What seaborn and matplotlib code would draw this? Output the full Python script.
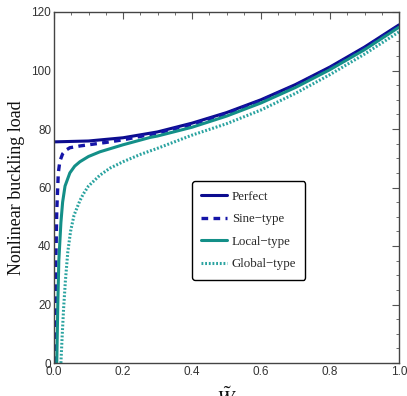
import matplotlib
matplotlib.use("Agg")
import matplotlib.pyplot as plt
from matplotlib.ticker import MultipleLocator, FormatStrFormatter
import seaborn as sns
import pandas as pd

# Deflection amplitude W~ and nonlinear buckling load for each imperfection type
w_perfect = [0.0, 0.1, 0.2, 0.3, 0.4, 0.5, 0.6, 0.7, 0.8, 0.9, 1.0]
p_perfect = [75.6, 75.9, 77.0, 79.0, 82.0, 85.6, 90.0, 95.2, 101.2, 108.0, 115.6]

w_sine = [0.003, 0.005, 0.008, 0.0125, 0.017, 0.025, 0.035, 0.046, 0.075, 0.1,
          0.15, 0.2, 0.3, 0.4, 0.5, 0.6, 0.7, 0.8, 0.9, 1.0]
p_sine = [0.0, 32.0, 52.0, 65.0, 69.0, 71.5, 72.8, 73.6, 74.2, 74.6,
          75.4, 76.3, 78.6, 81.6, 85.3, 89.7, 94.9, 100.9, 107.7, 115.3]

w_local = [0.008, 0.011, 0.014, 0.02, 0.025, 0.032, 0.046, 0.06, 0.075, 0.1,
           0.133, 0.2, 0.278, 0.3, 0.4, 0.5, 0.6, 0.7, 0.8, 0.9, 1.0]
p_local = [0.0, 20.0, 35.0, 48.0, 55.0, 60.5, 65.0, 67.3, 68.8, 70.6,
           72.2, 74.6, 77.1, 77.6, 80.6, 84.4, 88.9, 94.2, 100.3, 107.1, 114.8]

w_global = [0.02, 0.024, 0.028, 0.033, 0.04, 0.048, 0.058, 0.075, 0.085, 0.1,
            0.133, 0.162, 0.2, 0.25, 0.3, 0.4, 0.5, 0.6, 0.7, 0.8, 0.9, 1.0]
p_global = [0.0, 10.0, 19.0, 28.0, 38.0, 45.0, 50.5, 55.5, 57.8, 60.5,
            64.2, 66.6, 68.8, 71.3, 73.4, 77.9, 81.8, 86.5, 92.2, 98.6, 105.6, 113.2]

series_names = ["Perfect", "Sine\u2212type", "Local\u2212type", "Global\u2212type"]

sns.set_theme(style="white")
plt.rcParams["font.family"] = ["Liberation Sans", "DejaVu Sans"]
plt.rcParams["mathtext.fontset"] = "stix"

fig = plt.figure(figsize=(4.07, 3.96), dpi=100)
ax = fig.add_axes([54 / 407, 1 - 363 / 396, 345 / 407, 351 / 396])

navy = "#0c0c8f"
teal = "#138f88"
teal_light = "#2aa3a0"

styles = [
    (w_perfect, p_perfect, navy, "-", 2.2),
    (w_sine, p_sine, "#1515a8", (0, (2.0, 1.6)), 2.4),
    (w_local, p_local, teal, "-", 2.2),
    (w_global, p_global, teal_light, (0, (0.6, 0.6)), 2.2),
]
for name, (wx, py, col, ls, lw) in zip(series_names, styles):
    df = pd.DataFrame({"w": wx, "p": py})
    sns.lineplot(data=df, x="w", y="p", ax=ax, color=col, linestyle=ls,
                 linewidth=lw, label=name, sort=True)

ax.set_xlim(0, 1.0)
ax.set_ylim(0, 120)
ax.xaxis.set_major_locator(MultipleLocator(0.2))
ax.xaxis.set_minor_locator(MultipleLocator(0.05))
ax.yaxis.set_major_locator(MultipleLocator(20))
ax.yaxis.set_minor_locator(MultipleLocator(5))
ax.xaxis.set_major_formatter(FormatStrFormatter("%.1f"))

for s in ax.spines.values():
    s.set_color("#444444")
    s.set_linewidth(1.0)

ax.tick_params(which="both", direction="in", top=True, right=True,
               color="#555555", labelcolor="#333333", labelsize=8.5, pad=2)
ax.tick_params(which="major", length=5, width=0.8)
ax.tick_params(which="minor", length=2.5, width=0.6)

ax.set_ylabel("Nonlinear buckling load", family=["Liberation Serif"],
              fontsize=13, color="#111111")
ax.yaxis.set_label_coords(-0.084, 0.5)
ax.set_xlabel(r"$\tilde{W}$", fontsize=15, color="#111111", va="top")
ax.xaxis.set_label_coords(0.5, -0.068)

leg = ax.legend(loc="upper left", bbox_to_anchor=(0.40, 0.518), frameon=True,
                prop={"family": "Liberation Serif", "size": 9.3},
                handlelength=2.0, handletextpad=0.35, labelspacing=0.82,
                borderpad=0.72, borderaxespad=0.0, fancybox=True)
leg.get_frame().set_edgecolor("black")
leg.get_frame().set_linewidth(1.0)
leg.get_frame().set_alpha(1.0)

fig.savefig("out.png", dpi=100)
